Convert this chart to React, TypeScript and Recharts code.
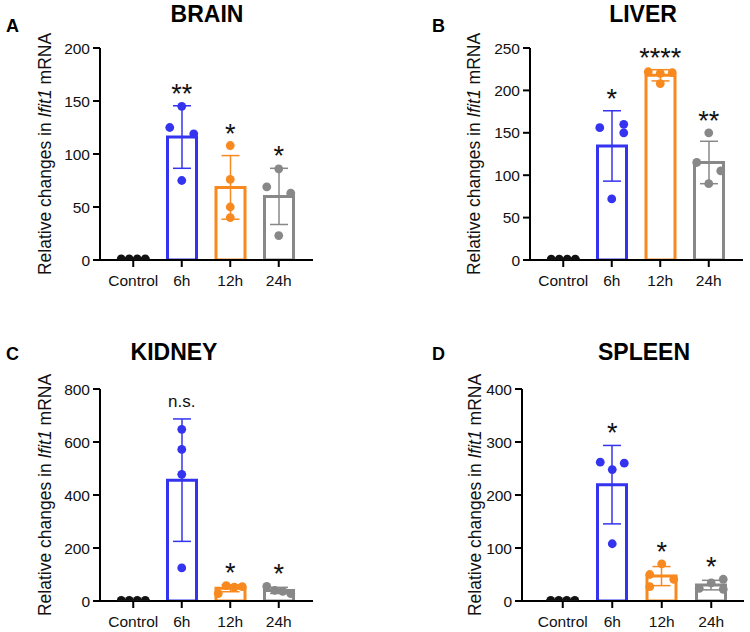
import { ComposedChart, Bar, ErrorBar, Scatter, XAxis, YAxis } from "recharts"

const FONT = '"Liberation Sans", Arial, Helvetica, sans-serif'

const categories = ["Control", "6h", "12h", "24h"]
const groupKeys = ["ctrl", "h6", "h12", "h24"]
const groupColors = ["#111111", "#3434f0", "#f7891f", "#888888"]

// BRAIN
const brainPoints = [[1, 1, 1, 1], [145, 125, 119, 75], [108, 76, 50, 40], [86, 69, 63, 23]]
const brainSide = [[-1.5, -0.5, 0.5, 1.5], [0, -1.5, 1.5, 0], [0, 0, 0, 0], [0, -1.5, 1.5, 0]]
const brainMean = [1, 116, 68.5, 60]
const brainSd = [0.3, 29.5, 30, 26.5]
const brainSig = ["", "**", "*", "*"]
const brainTicks = [0, 50, 100, 150, 200]

// LIVER
const liverPoints = [[1, 1, 1, 1], [160, 156, 150, 72], [222, 220, 221, 208], [150, 115, 105, 90]]
const liverSide = [[-1.5, -0.5, 0.5, 1.5], [1.5, -1.5, 1.5, 0], [-1.5, 0, 1.5, 0], [0, -1.5, 1.5, 0]]
const liverMean = [1, 134.5, 217.8, 115]
const liverSd = [0.3, 41.5, 6.6, 25]
const liverSig = ["", "*", "****", "**"]
const liverTicks = [0, 50, 100, 150, 200, 250]

// KIDNEY
const kidneyPoints = [[2, 2, 2, 2], [648, 572, 478, 125], [58, 52, 54, 28], [55, 40, 36, 28]]
const kidneySide = [[-1.5, -0.5, 0.5, 1.5], [0, 0, 0, 0], [-0.5, 0.5, 1.5, -1.5], [-1.5, -0.5, 0.5, 1.5]]
const kidneyMean = [2, 456, 48, 40]
const kidneySd = [0.5, 231, 13, 11.5]
const kidneySig = ["", "n.s.", "*", "*"]
const kidneyTicks = [0, 200, 400, 600, 800]

// SPLEEN
const spleenPoints = [[1, 1, 1, 1], [262, 260, 248, 108], [70, 50, 41, 27], [41, 34, 24, 22]]
const spleenSide = [[-1.5, -0.5, 0.5, 1.5], [-1.5, 1.5, 0, 0], [0, -1.5, 1.5, -1.5], [1.5, 0, -1.5, 1.5]]
const spleenMean = [1, 219.5, 47, 30]
const spleenSd = [0.3, 74, 18, 9]
const spleenSig = ["", "*", "*", "*"]
const spleenTicks = [0, 100, 200, 300, 400]

function buildRows(points: number[][], side: number[][], mean: number[], sd: number[], sig: string[]) {
    return categories.map((cat, i) => {
        const row: any = {
            cat,
            side: side[i],
            sig: sig[i],
            sigAt: Math.max(mean[i] + sd[i], ...points[i]),
        }
        row[groupKeys[i]] = mean[i]
        row[groupKeys[i] + "Err"] = sd[i]
        points[i].forEach((v, k) => {
            row["p" + k] = v
        })
        return row
    })
}

const makeDot = (k: number) => (props: any) => {
    const { cx, cy, payload } = props
    if (cx == null || cy == null) return <g />
    const i = categories.indexOf(payload.cat)
    return <circle cx={cx + payload.side[k] * 8} cy={cy} r={4.4} fill={groupColors[i]} />
}

const SigLabel = (props: any) => {
    const { cx, cy, payload } = props
    if (!payload.sig || cx == null || cy == null) return <g />
    const ns = payload.sig === "n.s."
    return (
        <text
            x={cx}
            y={cy - (ns ? 12 : 3)}
            textAnchor="middle"
            fontSize={ns ? 17 : 27}
            fontFamily={FONT}
            fill="#111"
        >
            {payload.sig}
        </text>
    )
}

type PanelProps = {
    rows: any[]
    ticks: number[]
    left: number
    top: number
    yWidth: number
    margin: { top: number; right: number; left: number; bottom: number }
    padding: { left: number; right: number }
}

function Panel({ rows, ticks, left, top, yWidth, margin, padding }: PanelProps) {
    const axisStyle = { stroke: "#000", strokeWidth: 2 }
    const tickStyle = { fill: "#111", fontSize: 15.5, fontFamily: FONT }
    return (
        <div style={{ position: "absolute", left, top }}>
            <ComposedChart width={375} height={316} data={rows} margin={margin}>
                <XAxis
                    dataKey="cat"
                    interval={0}
                    padding={padding}
                    tickSize={7}
                    tickMargin={8}
                    axisLine={axisStyle}
                    tickLine={axisStyle}
                    tick={tickStyle}
                />
                <YAxis
                    width={yWidth}
                    domain={[0, ticks[ticks.length - 1]]}
                    ticks={ticks}
                    allowDataOverflow
                    tickSize={7}
                    tickMargin={3}
                    axisLine={axisStyle}
                    tickLine={axisStyle}
                    tick={tickStyle}
                />
                {groupKeys.map((k, i) => (
                    <Bar
                        key={k}
                        dataKey={k}
                        stackId="m"
                        barSize={29}
                        fill="#ffffff"
                        stroke={groupColors[i]}
                        strokeWidth={3}
                        isAnimationActive={false}
                    >
                        <ErrorBar dataKey={k + "Err"} width={9} stroke={groupColors[i]} strokeWidth={1.5} />
                    </Bar>
                ))}
                {[0, 1, 2, 3].map((k) => (
                    <Scatter key={k} dataKey={"p" + k} shape={makeDot(k)} isAnimationActive={false} />
                ))}
                <Scatter dataKey="sigAt" shape={SigLabel} isAnimationActive={false} />
            </ComposedChart>
        </div>
    )
}

function YLabel({ x, y }: { x: number; y: number }) {
    return (
        <text
            transform={`translate(${x},${y}) rotate(-90)`}
            textAnchor="middle"
            dy="0.35em"
            fontSize={17.5}
            fontFamily={FONT}
            fill="#111"
        >
            Relative changes in <tspan fontStyle="italic">Ifit1</tspan> mRNA
        </text>
    )
}

export default function App() {
    const titleProps = { fontFamily: FONT, fontWeight: 700, fill: "#000" }
    return (
        <div style={{ position: "absolute", left: 0, top: 0, width: 750, height: 632, background: "#fff" }}>
            <Panel
                rows={buildRows(brainPoints, brainSide, brainMean, brainSd, brainSig)}
                ticks={brainTicks}
                left={0}
                top={0}
                yWidth={100}
                margin={{ top: 48, right: 62, left: 0, bottom: 26 }}
                padding={{ left: 9, right: 10 }}
            />
            <Panel
                rows={buildRows(liverPoints, liverSide, liverMean, liverSd, liverSig)}
                ticks={liverTicks}
                left={375}
                top={0}
                yWidth={155}
                margin={{ top: 48, right: 7, left: 0, bottom: 26 }}
                padding={{ left: 9, right: 10 }}
            />
            <Panel
                rows={buildRows(kidneyPoints, kidneySide, kidneyMean, kidneySd, kidneySig)}
                ticks={kidneyTicks}
                left={0}
                top={316}
                yWidth={100}
                margin={{ top: 73, right: 62, left: 0, bottom: 1 }}
                padding={{ left: 9, right: 10 }}
            />
            <Panel
                rows={buildRows(spleenPoints, spleenSide, spleenMean, spleenSd, spleenSig)}
                ticks={spleenTicks}
                left={375}
                top={316}
                yWidth={147}
                margin={{ top: 73, right: 6, left: 0, bottom: 1 }}
                padding={{ left: 16, right: 8 }}
            />
            <svg
                width={750}
                height={632}
                style={{ position: "absolute", left: 0, top: 0, pointerEvents: "none" }}
            >
                <text x={6} y={32} fontSize={18} {...titleProps}>A</text>
                <text x={207} y={22} fontSize={23} textAnchor="middle" {...titleProps}>BRAIN</text>
                <text x={432} y={32} fontSize={18} {...titleProps}>B</text>
                <text x={643} y={22} fontSize={23} textAnchor="middle" {...titleProps}>LIVER</text>
                <text x={6} y={360} fontSize={18} {...titleProps}>C</text>
                <text x={174} y={360} fontSize={23} textAnchor="middle" {...titleProps}>KIDNEY</text>
                <text x={432} y={360} fontSize={18} {...titleProps}>D</text>
                <text x={644} y={360} fontSize={23} textAnchor="middle" {...titleProps}>SPLEEN</text>
                <YLabel x={45} y={154} />
                <YLabel x={474} y={154} />
                <YLabel x={45} y={495} />
                <YLabel x={475} y={495} />
            </svg>
        </div>
    )
}
